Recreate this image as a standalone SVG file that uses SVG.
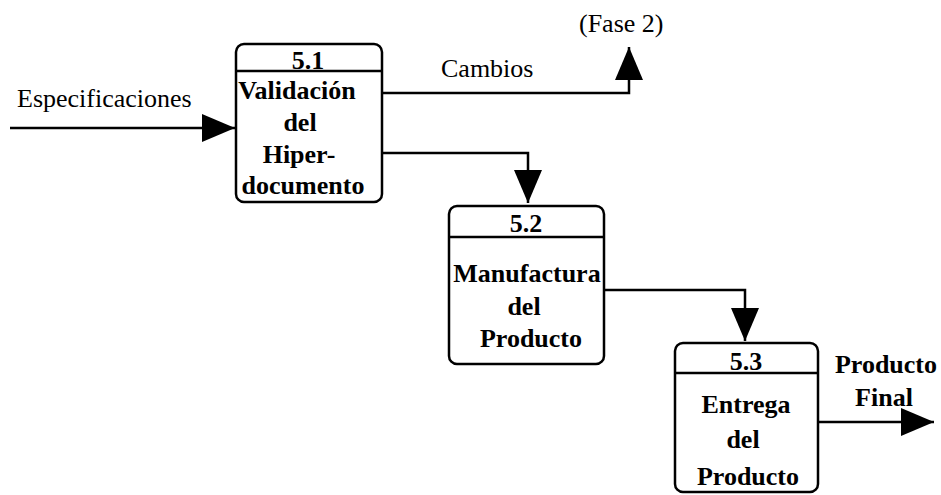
<svg xmlns="http://www.w3.org/2000/svg" width="941" height="495" viewBox="0 0 941 495">
  <style>
    .box { fill: #ffffff; stroke: #000000; stroke-width: 2.5; }
    .div { stroke: #000000; stroke-width: 2.5; }
    .flow { fill: none; stroke: #000000; stroke-width: 2.5; marker-end: url(#head); }
    .t { font-family: "Liberation Serif", "Times New Roman", serif; font-size: 26px; fill: #000000; }
    .b { font-weight: bold; text-anchor: middle; }
  </style>
  <defs>
    <marker id="head" markerUnits="userSpaceOnUse" viewBox="0 0 33 28" refX="33" refY="14" markerWidth="33" markerHeight="28" orient="auto">
      <path d="M0,0 L33,14 L0,28 Z" fill="#000000"/>
    </marker>
  </defs>

  <g id="connectors">
    <path class="flow" d="M10,128 H235"/>
    <path class="flow" d="M382,93 H629 V47"/>
    <path class="flow" d="M382,153 H528 V203"/>
    <path class="flow" d="M604,290 H745 V341"/>
    <path class="flow" d="M818,422 H934"/>
    <text class="t" x="17" y="107">Especificaciones</text>
    <text class="t" x="441" y="77">Cambios</text>
    <text class="t" x="579" y="32">(Fase 2)</text>
    <text class="t b" x="886" y="373">Producto</text>
    <text class="t b" x="884" y="406">Final</text>
  </g>

  <g id="p5-1">
    <rect class="box" x="236" y="44" width="146" height="158" rx="8"/>
    <line class="div" x1="236" y1="71" x2="382" y2="71"/>
    <text class="t b" x="308" y="69">5.1</text>
    <text class="t b" x="297" y="99">Validación</text>
    <text class="t b" x="300" y="131">del</text>
    <text class="t b" x="299" y="163">Hiper-</text>
    <text class="t b" x="303" y="194">documento</text>
  </g>

  <g id="p5-2">
    <rect class="box" x="449" y="206" width="155" height="158" rx="8"/>
    <line class="div" x1="449" y1="237" x2="604" y2="237"/>
    <text class="t b" x="526" y="232">5.2</text>
    <text class="t b" x="527" y="282">Manufactura</text>
    <text class="t b" x="524" y="315">del</text>
    <text class="t b" x="531" y="347">Producto</text>
  </g>

  <g id="p5-3">
    <rect class="box" x="675" y="343" width="143" height="149" rx="8"/>
    <line class="div" x1="675" y1="373" x2="818" y2="373"/>
    <text class="t b" x="746" y="370">5.3</text>
    <text class="t b" x="746" y="413">Entrega</text>
    <text class="t b" x="743" y="448">del</text>
    <text class="t b" x="748" y="485">Producto</text>
  </g>
</svg>
